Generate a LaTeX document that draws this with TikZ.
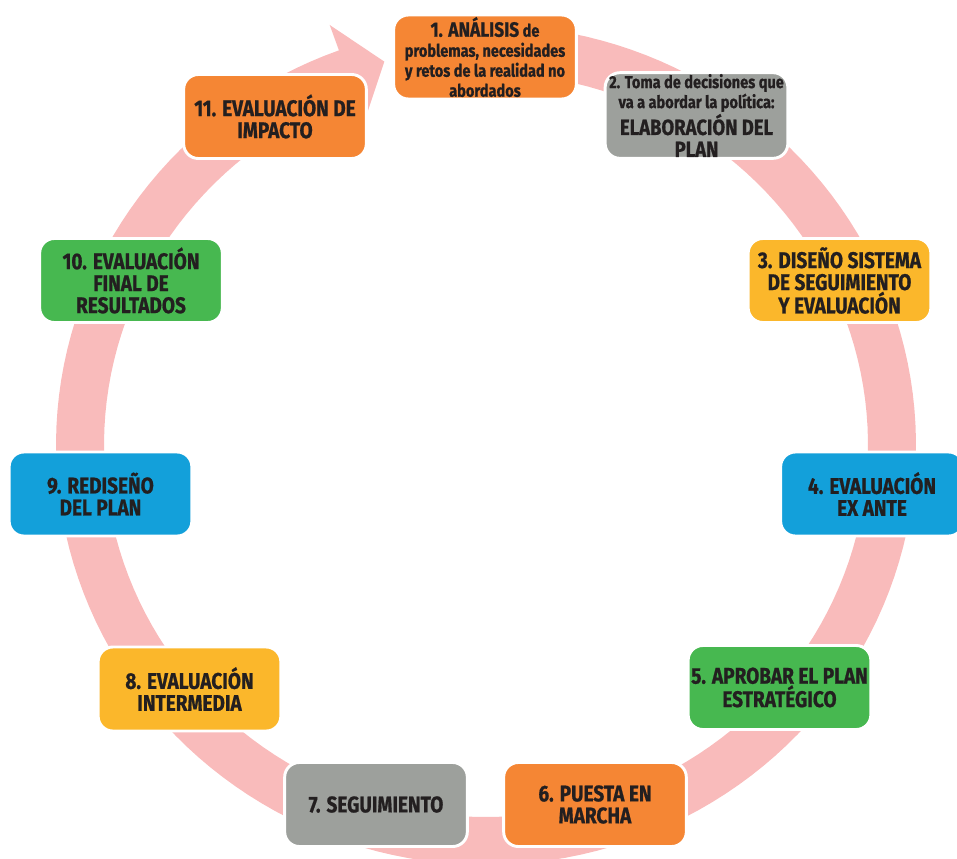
\documentclass[tikz,border=0pt]{standalone}
\usepackage{fontspec}
\setmainfont{Fira Sans}[FakeStretch=0.84, BoldFeatures={FakeBold=0.8}]
\definecolor{ringpink}{RGB}{249,187,187}
\definecolor{corange}{RGB}{245,134,52}
\definecolor{cgray}{RGB}{157,160,156}
\definecolor{cyellow}{RGB}{251,183,43}
\definecolor{cgreen}{RGB}{71,184,80}
\definecolor{cblue}{RGB}{19,160,218}
\definecolor{txt}{RGB}{35,31,32}
\begin{document}
\begin{tikzpicture}[x=0.75pt,y=-0.75pt,
  stage/.style={rounded corners=11pt, draw=white, line width=2.2pt,
    minimum width=137pt, minimum height=63pt, align=center, text=txt,
    inner sep=1pt, font=\bfseries\fontsize{17}{16.5}\selectfont},
  small/.style={font=\bfseries\fontsize{13}{15}\selectfont}]
\useasboundingbox (0,0) rectangle (957,858);
\clip (0,0) rectangle (957,858);
% ring with arrowhead
\fill[ringpink]
  plot[domain=-85:250,samples=160] ({486+430*cos(\x)},{445+420*sin(\x)})
  -- ({486+457*cos(250)},{445+447*sin(250)})
  -- ({486+406*cos(255.5)},{445+396*sin(255.5)})
  -- ({486+355*cos(250)},{445+345*sin(250)})
  -- plot[domain=250:-85,samples=160] ({486+382*cos(\x)},{445+372*sin(\x)})
  -- cycle;
% stages
\node[stage, fill=corange, small] (s1) at (485,57)
  {{\fontsize{15.5}{15}\selectfont 1. ANÁLISIS} de\\problemas, necesidades\\y retos de la realidad no\\abordados};
\node[stage, fill=cgray, small] (s2) at (696.5,115.5)
  {2. Toma de decisiones que\\va a abordar la política:\\[0.5pt]{\fontsize{16.5}{15}\selectfont ELABORACIÓN DEL}\\[1.5pt]{\fontsize{16.5}{15}\selectfont PLAN}};
\node[stage, fill=cyellow] (s3) at (839.5,280.5) {3. DISEÑO SISTEMA\\DE SEGUIMIENTO\\Y EVALUACIÓN};
\node[stage, fill=cblue] (s4) at (872,494) {4. EVALUACIÓN\\EX ANTE};
\node[stage, fill=cgreen] (s5) at (779.5,687.5) {5. APROBAR EL PLAN\\ESTRATÉGICO};
\node[stage, fill=corange] (s6) at (595,804.5) {6. PUESTA EN\\MARCHA};
\node[stage, fill=cgray] (s7) at (376,804.5) {7. SEGUIMIENTO};
\node[stage, fill=cyellow] (s8) at (189.5,689) {8. EVALUACIÓN\\INTERMEDIA};
\node[stage, fill=cblue] (s9) at (100.5,494) {9. REDISEÑO\\DEL PLAN};
\node[stage, fill=cgreen] (s10) at (131,280.5) {10. EVALUACIÓN\\FINAL DE\\RESULTADOS};
\node[stage, fill=corange] (s11) at (275,116.5) {11. EVALUACIÓN DE\\IMPACTO};
\end{tikzpicture}
\end{document}
